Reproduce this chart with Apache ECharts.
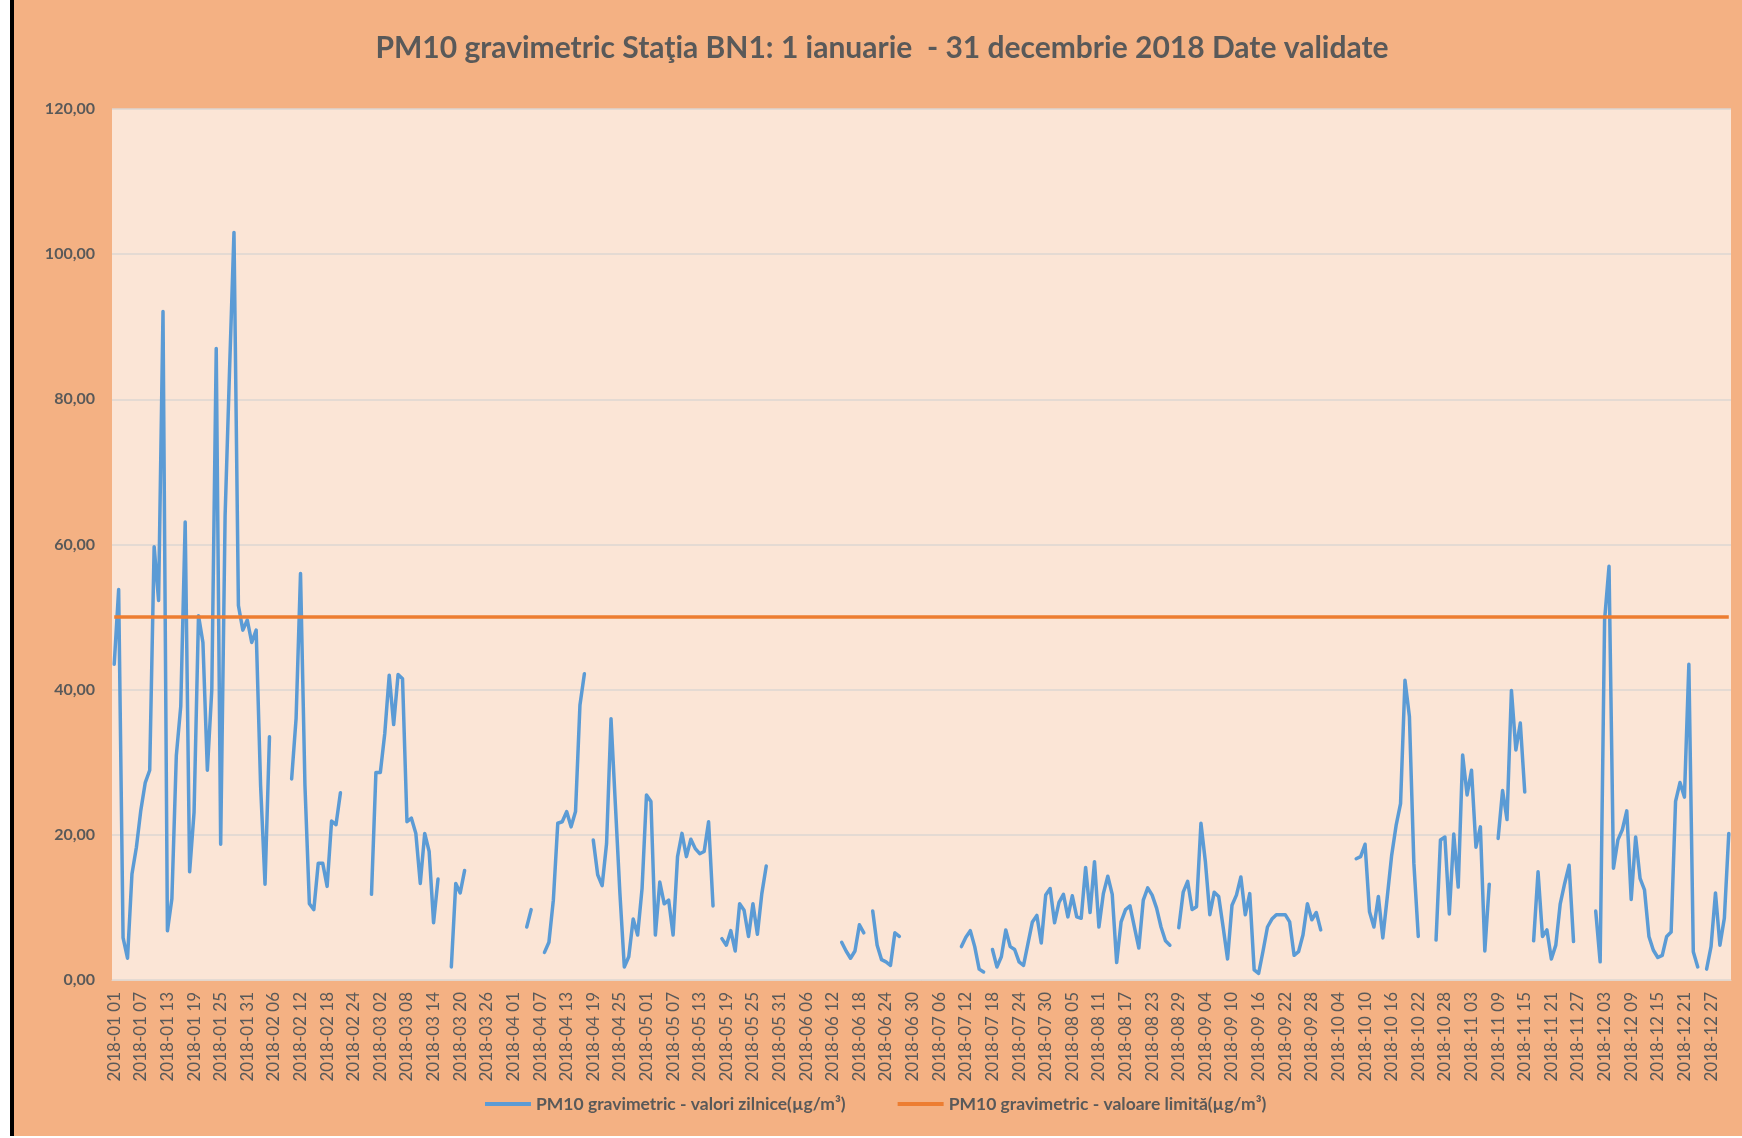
<!DOCTYPE html>
<html>
<head>
<meta charset="utf-8">
<script src="https://cdn.jsdelivr.net/npm/echarts@6/dist/echarts.min.js"></script>
<style>
  html, body { margin: 0; padding: 0; background: #ffffff; }
  #frame { position: absolute; left: 10px; top: 0; width: 1732px; height: 1136px; background: #F4B183; border-left: 4px solid #000; box-sizing: border-box; }
  #chart { position: absolute; left: 0; top: 0; width: 1742px; height: 1138px; }
</style>
</head>
<body>
<div id="frame"></div>
<div id="chart"></div>
<script>
// Daily PM10 gravimetric values (µg/m³), one array per month; null = no validated data
const jan = [43.5, 53.8, 5.8, 3.0, 14.6, 18.3, 23.4, 27.2, 28.9, 59.7, 52.3, 92.1, 6.8, 11.2, 30.9, 37.7, 63.1, 14.9, 23.1, 50.2, 46.5, 28.9, 40.0, 87.0, 18.7, 64.0, 84.0, 103.0, 51.6, 48.2, 49.6];
const feb = [46.5, 48.2, 26.8, 13.2, 33.5, null, null, null, null, 27.7, 36.0, 56.0, 26.8, 10.5, 9.7, 16.1, 16.1, 12.9, 21.9, 21.4, 25.8, null, null, null, null, null, null, 11.8];
const mar = [28.6, 28.6, 34.0, 42.0, 35.2, 42.1, 41.5, 21.8, 22.3, 20.2, 13.3, 20.2, 17.7, 7.9, 13.9, null, null, 1.8, 13.3, 12.0, 15.1, null, null, null, null, null, null, null, null, null, null];
const apr = [null, null, null, 7.3, 9.7, null, null, 3.8, 5.2, 11.0, 21.6, 21.8, 23.2, 21.1, 23.2, 37.9, 42.2, null, 19.3, 14.5, 13.0, 18.8, 36.0, 24.0, 12.0, 1.8, 3.2, 8.4, 6.2, 12.6];
const may = [25.5, 24.6, 6.2, 13.5, 10.5, 11.0, 6.2, 17.0, 20.2, 17.0, 19.4, 18.1, 17.4, 17.7, 21.8, 10.2, null, 5.7, 4.8, 6.8, 4.0, 10.5, 9.6, 6.0, 10.5, 6.3, 11.9, 15.7, null, null, null];
const jun = [null, null, null, null, null, null, null, null, null, null, null, null, null, 5.2, 4.0, 3.0, 4.0, 7.6, 6.5, null, 9.5, 4.8, 2.8, 2.5, 2.0, 6.5, 6.0, null, null, null];
const jul = [null, null, null, null, null, null, null, null, null, null, 4.6, 5.9, 6.8, 4.6, 1.5, 1.1, null, 4.2, 1.8, 3.2, 6.9, 4.6, 4.2, 2.5, 2.0, 5.0, 8.0, 8.9, 5.1, 11.7, 12.6];
const aug = [7.9, 10.7, 11.8, 8.7, 11.6, 8.7, 8.5, 15.5, 9.3, 16.3, 7.3, 11.9, 14.3, 11.8, 2.4, 8.0, 9.7, 10.2, 7.3, 4.4, 11.0, 12.7, 11.7, 9.9, 7.3, 5.4, 4.8, null, 7.2, 12.1, 13.6];
const sep = [9.7, 10.1, 21.6, 16.3, 9.0, 12.1, 11.5, 7.3, 2.9, 10.3, 11.7, 14.2, 9.0, 11.9, 1.4, 0.9, 4.0, 7.3, 8.4, 9.0, 9.0, 9.0, 8.0, 3.4, 3.9, 6.2, 10.5, 8.3, 9.3, 6.9];
const oct = [null, null, null, null, null, null, null, 16.7, 17.0, 18.7, 9.4, 7.3, 11.5, 5.8, 11.4, 17.2, 21.3, 24.3, 41.3, 36.3, 16.1, 6.0, null, null, null, 5.5, 19.3, 19.7, 9.1, 20.1, 12.8];
const nov = [31.0, 25.5, 28.9, 18.3, 21.1, 4.0, 13.2, null, 19.5, 26.1, 22.1, 39.9, 31.7, 35.4, 25.9, null, 5.4, 14.9, 6.0, 6.9, 2.9, 4.8, 10.5, 13.3, 15.8, 5.3, null, null, null, null];
const dec = [9.5, 2.5, 49.6, 57.0, 15.4, 19.3, 20.7, 23.3, 11.1, 19.7, 14.0, 12.4, 6.0, 4.1, 3.1, 3.4, 6.0, 6.6, 24.6, 27.2, 25.2, 43.5, 3.9, 1.8, null, 1.5, 4.6, 12.0, 4.8, 8.5, 20.2];

const limitValue = 50; // valoare limită
const yTicks = [0, 20, 40, 60, 80, 100, 120];

const dailyValues = [].concat(jan, feb, mar, apr, may, jun, jul, aug, sep, oct, nov, dec);

// Category labels: every day of 2018, formatted "2018-MM DD"
const monthLengths = [31, 28, 31, 30, 31, 30, 31, 31, 30, 31, 30, 31];
const categories = [];
monthLengths.forEach((n, m) => {
  for (let d = 1; d <= n; d++) {
    categories.push('2018-' + String(m + 1).padStart(2, '0') + ' ' + String(d).padStart(2, '0'));
  }
});
const limitValues = categories.map(() => limitValue);

const FONT = 'Lato';
const TXT = '#595959';

const chart = echarts.init(document.getElementById('chart'), null, { renderer: 'canvas' });
chart.setOption({
  backgroundColor: 'transparent',
  animation: false,
  textStyle: { fontFamily: FONT },
  title: {
    text: 'PM10 gravimetric Staţia BN1: 1 ianuarie  - 31 decembrie 2018 Date validate',
    left: 877,
    top: 28,
    textAlign: 'center',
    textStyle: { fontFamily: FONT, fontWeight: 'bold', fontSize: 30, color: TXT }
  },
  legend: {
    bottom: 20,
    left: 480,
    itemGap: 52,
    itemWidth: 46,
    itemHeight: 4,
    icon: 'rect',
    textStyle: { fontFamily: FONT, fontWeight: 'bold', fontSize: 17.5, color: TXT },
    data: ['PM10 gravimetric - valori zilnice(µg/m³)', 'PM10 gravimetric - valoare limită(µg/m³)']
  },
  grid: {
    left: 112, right: 11, top: 109, bottom: 158,
    show: true, backgroundColor: '#FBE5D6', borderWidth: 0
  },
  xAxis: {
    type: 'category',
    data: categories,
    boundaryGap: true,
    axisLine: { show: true, lineStyle: { color: '#E3D6CC', width: 1 } },
    axisTick: { show: false },
    axisLabel: { interval: 5, rotate: 90, margin: 12, fontSize: 17, color: TXT, fontFamily: FONT },
    splitLine: { show: false }
  },
  yAxis: {
    type: 'value',
    min: yTicks[0],
    max: yTicks[yTicks.length - 1],
    interval: 20,
    axisLine: { show: false },
    axisTick: { show: false },
    axisLabel: {
      margin: 17, fontSize: 16, fontWeight: 'bold', color: TXT, fontFamily: FONT,
      formatter: v => v.toFixed(2).replace('.', ',')
    },
    splitLine: { show: true, lineStyle: { color: '#DCD6D2', width: 1.5 } }
  },
  series: [
    {
      name: 'PM10 gravimetric - valori zilnice(µg/m³)',
      type: 'line',
      data: dailyValues,
      showSymbol: false,
      connectNulls: false,
      color: '#5B9BD5',
      lineStyle: { color: '#5B9BD5', width: 3.5, join: 'round', cap: 'round' },
      z: 2
    },
    {
      name: 'PM10 gravimetric - valoare limită(µg/m³)',
      type: 'line',
      data: limitValues,
      showSymbol: false,
      color: '#ED7D31',
      lineStyle: { color: '#ED7D31', width: 3.5 },
      z: 3
    }
  ]
});
</script>
</body>
</html>
